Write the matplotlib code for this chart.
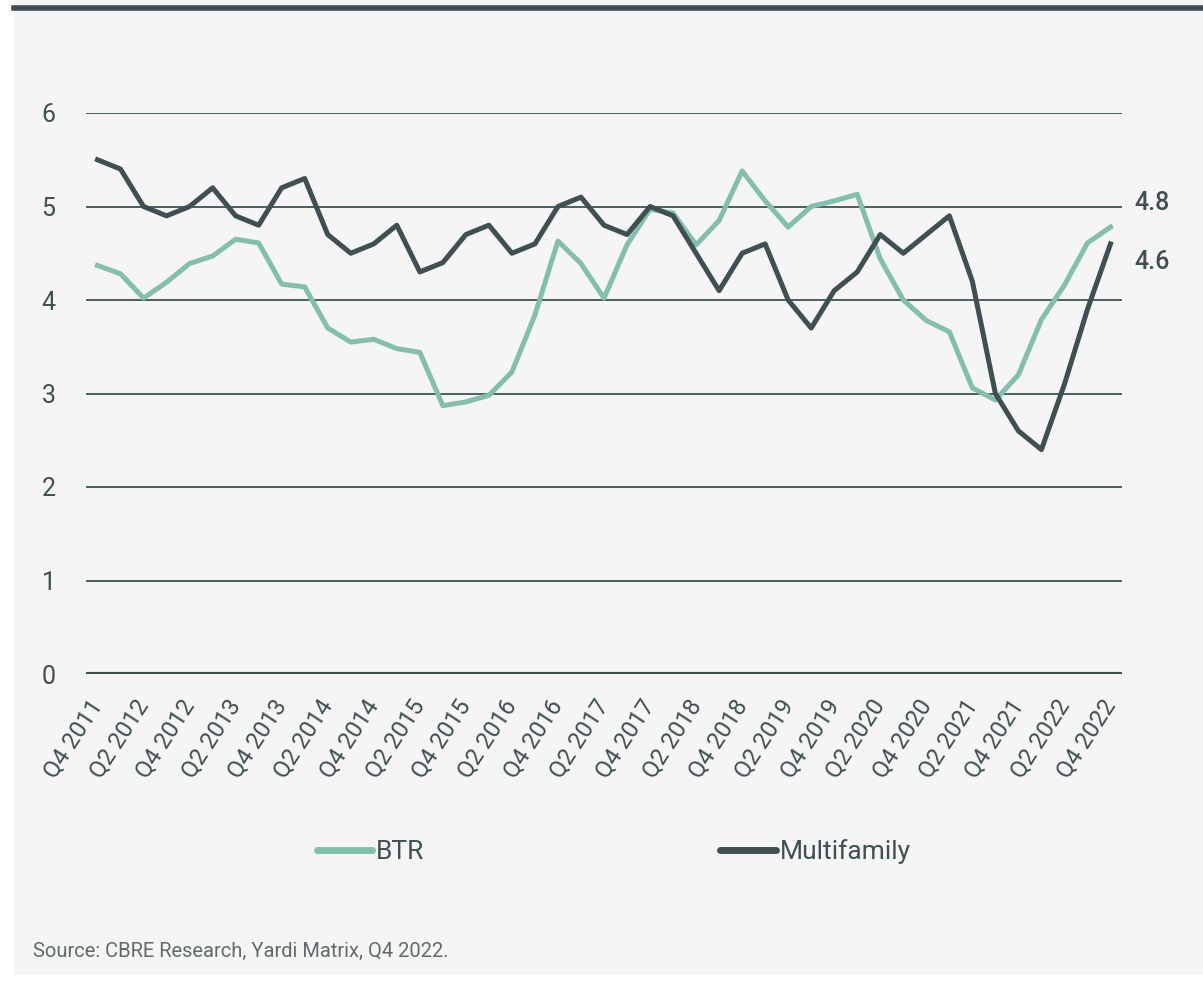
import matplotlib.pyplot as plt
from matplotlib.patches import Rectangle
from matplotlib.lines import Line2D

plt.rcParams['font.family'] = ['Roboto', 'DejaVu Sans']

quarters = ['Q4 2011',
            'Q1 2012', 'Q2 2012', 'Q3 2012', 'Q4 2012',
            'Q1 2013', 'Q2 2013', 'Q3 2013', 'Q4 2013',
            'Q1 2014', 'Q2 2014', 'Q3 2014', 'Q4 2014',
            'Q1 2015', 'Q2 2015', 'Q3 2015', 'Q4 2015',
            'Q1 2016', 'Q2 2016', 'Q3 2016', 'Q4 2016',
            'Q1 2017', 'Q2 2017', 'Q3 2017', 'Q4 2017',
            'Q1 2018', 'Q2 2018', 'Q3 2018', 'Q4 2018',
            'Q1 2019', 'Q2 2019', 'Q3 2019', 'Q4 2019',
            'Q1 2020', 'Q2 2020', 'Q3 2020', 'Q4 2020',
            'Q1 2021', 'Q2 2021', 'Q3 2021', 'Q4 2021',
            'Q1 2022', 'Q2 2022', 'Q3 2022', 'Q4 2022']

btr = [4.37, 4.28, 4.02, 4.19, 4.39, 4.47, 4.65, 4.61, 4.17, 4.14,
       3.70, 3.55, 3.58, 3.48, 3.44, 2.87, 2.91, 2.98, 3.23, 3.84,
       4.63, 4.39, 4.02, 4.59, 4.97, 4.93, 4.59, 4.85, 5.38, 5.06,
       4.78, 5.00, 5.06, 5.13, 4.44, 4.00, 3.78, 3.66, 3.06, 2.93,
       3.20, 3.79, 4.16, 4.61, 4.78]

multifamily = [5.5, 5.4, 5.0, 4.9, 5.0, 5.2, 4.9, 4.8, 5.2, 5.3,
               4.7, 4.5, 4.6, 4.8, 4.3, 4.4, 4.7, 4.8, 4.5, 4.6,
               5.0, 5.1, 4.8, 4.7, 5.0, 4.9, 4.5, 4.1, 4.5, 4.6,
               4.0, 3.7, 4.1, 4.3, 4.7, 4.5, 4.7, 4.9, 4.2, 3.0,
               2.6, 2.4, 3.1, 3.9, 4.6]

btr_color = '#82bfad'
mf_color = '#3f4f52'
text_color = '#3f4f52'

fig = plt.figure(figsize=(12.03, 9.82), dpi=100)
fig.patch.set_facecolor('white')
fig.patches.append(Rectangle((14 / 1203, 7 / 982), 1, 1, transform=fig.transFigure,
                             facecolor='#f5f5f5', edgecolor='none', zorder=-5))
fig.lines.append(Line2D([14 / 1203, 1], [1 - 7.5 / 982, 1 - 7.5 / 982],
                        transform=fig.transFigure, color=mf_color, lw=4, zorder=-4))

ax = fig.add_axes([86 / 1203, 308 / 982, 1036 / 1203, 561 / 982])
ax.set_facecolor('none')

x = list(range(len(quarters)))
ax.plot(x, btr, color=btr_color, lw=3.6, solid_joinstyle='round', label='BTR', zorder=3)
ax.plot(x, multifamily, color=mf_color, lw=3.6, solid_joinstyle='round', label='Multifamily', zorder=4)

ax.set_xlim(-0.5, len(quarters) - 0.5)
ax.set_ylim(0, 6)
ax.set_yticks(range(7))
ax.yaxis.grid(True, color='#4d5e61', lw=1.4)
ax.axhline(0, color=mf_color, lw=3, zorder=2)
ax.set_axisbelow(True)
for s in ax.spines.values():
    s.set_visible(False)

ax.set_xticks(x[::2])
ax.set_xticklabels(quarters[::2], rotation=57, ha='right', va='center',
                   rotation_mode='anchor', fontsize=17, color=text_color)
ax.tick_params(axis='x', length=0, pad=20)
ax.tick_params(axis='y', length=0, pad=22, labelsize=18, labelcolor=text_color)

# end-of-line value labels
ax.annotate(f'{btr[-1]:.1f}', xy=(x[-1], btr[-1]), xytext=(17, 17), textcoords='offset points',
            ha='left', va='center', fontsize=18, fontweight='medium', color=text_color,
            annotation_clip=False)
ax.annotate(f'{multifamily[-1]:.1f}', xy=(x[-1], multifamily[-1]), xytext=(17, -13),
            textcoords='offset points', ha='left', va='center', fontsize=18,
            fontweight='medium', color=text_color, annotation_clip=False)

h, l = ax.get_legend_handles_labels()
leg = fig.legend(h, l, loc='center left', bbox_to_anchor=(317 / 1203, 1 - 852 / 982),
                 ncol=2, frameon=False, fontsize=19, handlelength=2.1, handletextpad=0.15,
                 columnspacing=11.2, borderpad=0, borderaxespad=0)
for line in leg.get_lines():
    line.set_solid_capstyle('round')
    line.set_linewidth(5)
for t in leg.get_texts():
    t.set_color(text_color)

fig.text(33 / 1203, 1 - 951 / 982, 'Source: CBRE Research, Yardi Matrix, Q4 2022.',
         ha='left', va='center', fontsize=14.5, color='#5f6b6d')

fig.savefig('out.png', dpi=100, facecolor=fig.get_facecolor())
